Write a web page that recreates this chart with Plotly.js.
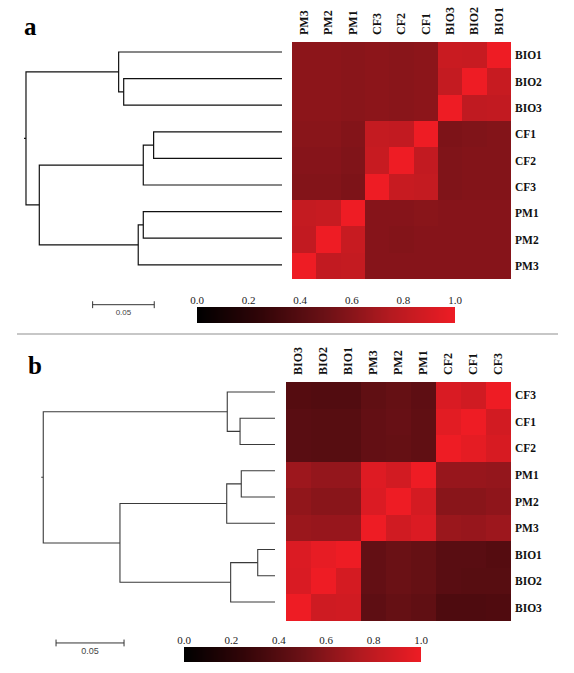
<!DOCTYPE html>
<html>
<head>
<meta charset="utf-8">
<script src="https://cdn.plot.ly/plotly-3.0.1.min.js"></script>
<style>html,body{margin:0;padding:0;background:#fff;}#chart{width:574px;height:673px;}</style>
</head>
<body>
<div id="chart"></div>
<script>
// ---------- Panel a data ----------
const colsA = ['PM3','PM2','PM1','CF3','CF2','CF1','BIO3','BIO2','BIO1'];
const rowsA = ['BIO1','BIO2','BIO3','CF1','CF2','CF3','PM1','PM2','PM3'];
const zA = [
  [0.61,0.61,0.60,0.61,0.60,0.61,0.84,0.83,1.00],
  [0.61,0.61,0.60,0.61,0.60,0.61,0.82,1.00,0.83],
  [0.61,0.61,0.60,0.61,0.60,0.61,1.00,0.80,0.81],
  [0.60,0.60,0.58,0.82,0.81,1.00,0.56,0.57,0.58],
  [0.59,0.59,0.57,0.83,1.00,0.81,0.57,0.58,0.58],
  [0.58,0.58,0.56,1.00,0.83,0.82,0.57,0.58,0.58],
  [0.82,0.83,1.00,0.59,0.59,0.60,0.59,0.59,0.59],
  [0.81,1.00,0.83,0.59,0.58,0.59,0.59,0.59,0.59],
  [1.00,0.81,0.82,0.59,0.59,0.59,0.59,0.59,0.59]
];
// dendrogram a: [childA, childB, height]; leaves 0..8 follow rowsA, new nodes numbered from 9
const linkA = [
  [1,2,0.1285],
  [0,9,0.1326],
  [3,4,0.1042],
  [11,5,0.1126],
  [6,7,0.1126],
  [13,8,0.1167],
  [12,14,0.1970],
  [10,15,0.2078]
];

// ---------- Panel b data ----------
const colsB = ['BIO3','BIO2','BIO1','PM3','PM2','PM1','CF2','CF1','CF3'];
const rowsB = ['CF3','CF1','CF2','PM1','PM2','PM3','BIO1','BIO2','BIO3'];
const zB = [
  [0.40,0.39,0.39,0.45,0.47,0.44,0.91,0.87,1.00],
  [0.42,0.41,0.41,0.46,0.48,0.45,0.95,1.00,0.88],
  [0.42,0.41,0.41,0.46,0.47,0.45,1.00,0.96,0.90],
  [0.67,0.64,0.64,0.93,0.88,1.00,0.65,0.65,0.64],
  [0.63,0.60,0.60,0.92,1.00,0.89,0.60,0.60,0.62],
  [0.66,0.65,0.65,1.00,0.87,0.92,0.66,0.65,0.67],
  [0.92,0.97,1.00,0.46,0.49,0.47,0.42,0.42,0.40],
  [0.91,1.00,0.89,0.46,0.49,0.47,0.42,0.41,0.41],
  [1.00,0.86,0.87,0.44,0.47,0.45,0.37,0.37,0.38]
];
const linkB = [
  [1,2,0.0257],
  [0,9,0.0351],
  [3,4,0.0248],
  [11,5,0.0355],
  [6,7,0.0127],
  [13,8,0.0326],
  [12,14,0.1140],
  [10,15,0.1704]
];

// ---------- scale bars & colour bar ticks ----------
const scaleLen = 0.05;
const scaleLabel = '0.05';
const scaleStartA = 0.1537;
const scaleStartB = 0.1610;
const cbTicks = [0, 0.2, 0.4, 0.6, 0.8, 1.0];
const cbTickText = ['0.0','0.2','0.4','0.6','0.8','1.0'];
const cbRows = [0, 1];

// ---------- styling ----------
const W = 574, H = 673;
const px = v => v / W;
const py = v => 1 - v / H;
const serif = 'Times New Roman, Liberation Serif, serif';
const colorscale = [[0,'#000000'],[0.25,'#320508'],[0.5,'#6c1116'],[0.75,'#b41a20'],[1,'#ee1c24']];

function dendro(links, nLeaves, stub) {
  const pos = [];
  for (let i = 0; i < nLeaves; i++) pos.push([0, i]);
  const xs = [], ys = [];
  links.forEach(([a, b, h]) => {
    const [xa, ya] = pos[a], [xb, yb] = pos[b];
    xs.push(xa, h, h, xb, null);
    ys.push(ya, ya, yb, yb, null);
    pos.push([h, (ya + yb) / 2]);
  });
  const root = pos[pos.length - 1];
  xs.push(root[0], root[0] + stub, null);
  ys.push(root[1], root[1], null);
  return {xs, ys};
}
function scaleBar(start, len, yRow, tick) {
  return {
    x: [start, start - len, null, start, start, null, start - len, start - len],
    y: [yRow, yRow, null, yRow - tick, yRow + tick, null, yRow - tick, yRow + tick]
  };
}

const dA = dendro(linkA, rowsA.length, 0.0016);
const dB = dendro(linkB, rowsB.length, 0.0015);
const sA = scaleBar(scaleStartA, scaleLen, 9.5, 0.13);
const sB = scaleBar(scaleStartB, scaleLen, 9.56, 0.13);

const traces = [
  {type:'heatmap', x: colsA, y: rowsA, z: zA, coloraxis:'coloraxis', xaxis:'x', yaxis:'y', hoverinfo:'skip'},
  {type:'heatmap', x: colsB, y: rowsB, z: zB, coloraxis:'coloraxis', xaxis:'x2', yaxis:'y2', hoverinfo:'skip'},
  // colour bars drawn as smoothed heatmaps of the tick values
  {type:'heatmap', x: cbTicks, y: cbRows, z: cbRows.map(() => cbTicks), zsmooth:'best',
   coloraxis:'coloraxis', xaxis:'x5', yaxis:'y5', hoverinfo:'skip'},
  {type:'heatmap', x: cbTicks, y: cbRows, z: cbRows.map(() => cbTicks), zsmooth:'best',
   coloraxis:'coloraxis', xaxis:'x6', yaxis:'y6', hoverinfo:'skip'},
  {type:'scatter', mode:'lines', x: dA.xs, y: dA.ys, xaxis:'x3', yaxis:'y3',
   line:{color:'#111111', width:1.2}, hoverinfo:'skip'},
  {type:'scatter', mode:'lines', x: dB.xs, y: dB.ys, xaxis:'x4', yaxis:'y4',
   line:{color:'#3a3a3a', width:1.1}, hoverinfo:'skip'},
  {type:'scatter', mode:'lines', x: sA.x, y: sA.y, xaxis:'x3', yaxis:'y3',
   line:{color:'#333333', width:1}, hoverinfo:'skip'},
  {type:'scatter', mode:'lines', x: sB.x, y: sB.y, xaxis:'x4', yaxis:'y4',
   line:{color:'#333333', width:1}, hoverinfo:'skip'},
  {type:'scatter', mode:'text', x:[scaleStartA - scaleLen/2], y:[9.82], text:[scaleLabel],
   xaxis:'x3', yaxis:'y3', textfont:{family:'Liberation Sans, Arial, sans-serif', size:8, color:'#444'}, cliponaxis:false, hoverinfo:'skip'},
  {type:'scatter', mode:'text', x:[scaleStartB - scaleLen/2], y:[9.9], text:[scaleLabel],
   xaxis:'x4', yaxis:'y4', textfont:{family:'Liberation Sans, Arial, sans-serif', size:9, color:'#444'}, cliponaxis:false, hoverinfo:'skip'}
];

const hmX = (dom) => ({domain: dom, side:'top', tickangle:-90, showgrid:false, zeroline:false, showline:false,
  ticks:'', ticklabelstandoff:6, tickfont:{family:serif, size:12, color:'#111', weight:'bold'}, fixedrange:true});
const hmY = (dom) => ({domain: dom, side:'right', autorange:'reversed', showgrid:false, zeroline:false, showline:false,
  ticks:'', ticklabelstandoff:3, tickfont:{family:serif, size:11.5, color:'#111', weight:'bold'}, fixedrange:true});
const hidden = (extra) => Object.assign({visible:false, showgrid:false, zeroline:false, fixedrange:true}, extra);
const cbAxis = (dom, anchor) => ({domain: dom, anchor: anchor, side:'top', range:[0,1], tickvals: cbTicks, ticktext: cbTickText,
  showgrid:false, zeroline:false, showline:false, ticks:'', ticklabelstandoff:0,
  tickfont:{family:serif, size:11, color:'#222'}, fixedrange:true});

const layout = {
  width: W, height: H,
  margin:{l:0, r:0, t:0, b:0},
  paper_bgcolor:'#ffffff', plot_bgcolor:'rgba(0,0,0,0)',
  showlegend:false,
  font:{family: serif},
  xaxis: Object.assign(hmX([px(292), px(511)]), {anchor:'y'}),
  yaxis: Object.assign(hmY([py(279), py(42)]), {anchor:'x'}),
  xaxis2: Object.assign(hmX([px(286), px(511)]), {anchor:'y2'}),
  yaxis2: Object.assign(hmY([py(621), py(382)]), {anchor:'x2'}),
  xaxis3: hidden({domain:[0, px(282)], range:[282*0.05/61.6, 0], anchor:'y3'}),
  yaxis3: hidden({domain:[py(52 - 13.3 + 11*26.6), py(52 - 13.3)], range:[10.5, -0.5], anchor:'x3'}),
  xaxis4: hidden({domain:[0, px(275)], range:[275*0.05/68, 0], anchor:'y4'}),
  yaxis4: hidden({domain:[py(392 - 13.125 + 11*26.25), py(392 - 13.125)], range:[10.5, -0.5], anchor:'x4'}),
  xaxis5: cbAxis([px(197), px(455)], 'y5'),
  yaxis5: hidden({domain:[py(323), py(307)], range:[0,1], anchor:'x5'}),
  xaxis6: cbAxis([px(184), px(421)], 'y6'),
  yaxis6: hidden({domain:[py(662), py(647)], range:[0,1], anchor:'x6'}),
  coloraxis: {colorscale: colorscale, cmin:0, cmax:1, showscale:false},
  shapes: [
    {type:'line', xref:'paper', yref:'paper', x0: px(17), x1: px(558), y0: py(334), y1: py(334),
     line:{color:'#b4b4b4', width:1.5}}
  ],
  annotations: [
    {text:'a', xref:'paper', yref:'paper', x: px(22), y: py(27), xanchor:'left', yanchor:'middle', showarrow:false,
     font:{family:serif, size:25, color:'#000', weight:'bold'}},
    {text:'b', xref:'paper', yref:'paper', x: px(26), y: py(365), xanchor:'left', yanchor:'middle', showarrow:false,
     font:{family:serif, size:25, color:'#000', weight:'bold'}}
  ]
};

Plotly.newPlot('chart', traces, layout, {staticPlot:true, displayModeBar:false});
</script>
</body>
</html>
